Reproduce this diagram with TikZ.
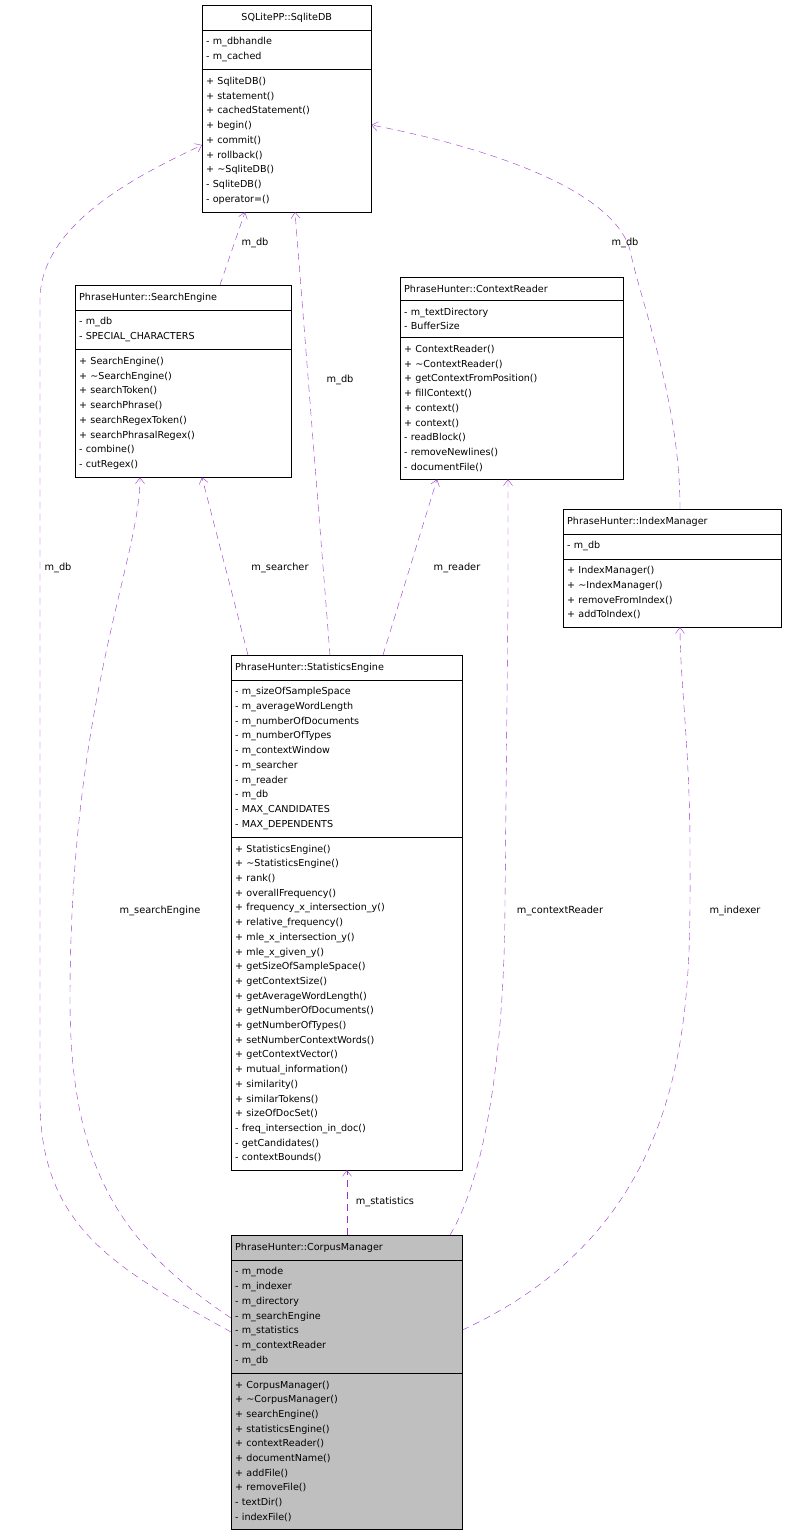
\documentclass[tikz,border=0pt]{standalone}
\usepackage{fontspec}
\setmainfont{DejaVu Sans}
\usetikzlibrary{shapes.multipart,arrows.meta}
\definecolor{edgepurple}{RGB}{154,50,205}
\definecolor{boxgray}{RGB}{191,191,191}
\begin{document}
\begin{tikzpicture}[x=1pt,y=-1pt]
        % Styles
        \tikzstyle{cls}=[draw,rectangle split,rectangle split parts=3,anchor=north west,
            font=\fontsize{9.6}{14.7}\selectfont,align=left,inner xsep=4pt,inner ysep=7.5pt,
            rectangle split part align={center,left,left}]
        \tikzstyle{rel}=[draw=edgepurple,dash pattern=on 7pt off 5pt,-{Straight Barb[length=6pt,width=9pt]}]
        \tikzstyle{lbl}=[font=\fontsize{9.8}{11}\selectfont,inner sep=1pt,text=black]
        \useasboundingbox (0,0) rectangle (787,1536);
        %classes
        \node[cls,text width=161pt] (db) at (202,5) {\makebox[161pt][c]{SQLitePP::SqliteDB}
            \nodepart{two}- m\_dbhandle\\- m\_cached
            \nodepart{three}+ SqliteDB()\\+ statement()\\+ cachedStatement()\\+ begin()\\+ commit()\\+ rollback()\\+ \textasciitilde SqliteDB()\\- SqliteDB()\\- operator=()};
        \node[cls,text width=208pt] (search) at (75,285) {PhraseHunter::SearchEngine
            \nodepart{two}- m\_db\\- SPECIAL\_CHARACTERS
            \nodepart{three}+ SearchEngine()\\+ \textasciitilde SearchEngine()\\+ searchToken()\\+ searchPhrase()\\+ searchRegexToken()\\+ searchPhrasalRegex()\\- combine()\\- cutRegex()};
        \node[cls,text width=215pt] (reader) at (400,277) {PhraseHunter::ContextReader
            \nodepart{two}- m\_textDirectory\\- BufferSize
            \nodepart{three}+ ContextReader()\\+ \textasciitilde ContextReader()\\+ getContextFromPosition()\\+ fillContext()\\+ context()\\+ context()\\- readBlock()\\- removeNewlines()\\- documentFile()};
        \node[cls,text width=210pt] (index) at (563,509) {PhraseHunter::IndexManager
            \nodepart{two}- m\_db
            \nodepart{three}+ IndexManager()\\+ \textasciitilde IndexManager()\\+ removeFromIndex()\\+ addToIndex()};
        \node[cls,text width=223pt] (stats) at (231,655) {PhraseHunter::StatisticsEngine
            \nodepart{two}- m\_sizeOfSampleSpace\\- m\_averageWordLength\\- m\_numberOfDocuments\\- m\_numberOfTypes\\- m\_contextWindow\\- m\_searcher\\- m\_reader\\- m\_db\\- MAX\_CANDIDATES\\- MAX\_DEPENDENTS
            \nodepart{three}+ StatisticsEngine()\\+ \textasciitilde StatisticsEngine()\\+ rank()\\+ overallFrequency()\\+ frequency\_x\_intersection\_y()\\+ relative\_frequency()\\+ mle\_x\_intersection\_y()\\+ mle\_x\_given\_y()\\+ getSizeOfSampleSpace()\\+ getContextSize()\\+ getAverageWordLength()\\+ getNumberOfDocuments()\\+ getNumberOfTypes()\\+ setNumberContextWords()\\+ getContextVector()\\+ mutual\_information()\\+ similarity()\\+ similarTokens()\\+ sizeOfDocSet()\\- freq\_intersection\_in\_doc()\\- getCandidates()\\- contextBounds()};
        \node[cls,text width=223pt,fill=boxgray] (corpus) at (231,1235) {PhraseHunter::CorpusManager
            \nodepart{two}- m\_mode\\- m\_indexer\\- m\_directory\\- m\_searchEngine\\- m\_statistics\\- m\_contextReader\\- m\_db
            \nodepart{three}+ CorpusManager()\\+ \textasciitilde CorpusManager()\\+ searchEngine()\\+ statisticsEngine()\\+ contextReader()\\+ documentName()\\+ addFile()\\+ removeFile()\\- textDir()\\- indexFile()};
        %relations
        \draw[rel] (corpus.west |- 0,1332) .. controls (120,1270) and (40,1230) .. (40,1100)
            -- (40,300) node[lbl] at (58,568) {m\_db} .. controls (40,220) and (150,170) .. (db.west |- 0,145);
        \draw[rel] (corpus.west |- 0,1318) .. controls (130,1250) and (70,1180) .. (70,1000)
            .. controls (70,700) and (140,560) .. (search.south -| 140,0) node[lbl] at (160,911) {m\_searchEngine};
        \draw[rel] (search.north -| 220,0) -- (db.south -| 245,0) node[lbl] at (255,243) {m\_db};
        \draw[rel] (stats.north -| 330,0) -- (db.south -| 295,0) node[lbl] at (340,380) {m\_db};
        \draw[rel] (stats.north -| 248,0) -- (search.south -| 202,0) node[lbl] at (280,568) {m\_searcher};
        \draw[rel] (stats.north -| 383,0) -- (reader.south -| 437,0) node[lbl] at (457,568) {m\_reader};
        \draw[rel] (index.north -| 680,0) .. controls (680,400) and (640,300) .. (630,250)
            node[lbl] at (625,243) {m\_db} .. controls (610,180) and (450,140) .. (db.east |- 0,125);
        \draw[rel] (corpus.north -| 347,0) -- (stats.south -| 347,0) node[lbl] at (385,1202) {m\_statistics};
        \draw[rel] (corpus.north -| 450,0) .. controls (495,1160) and (505,1000) .. (505,900)
            -- (508,600) .. controls (508,540) .. (reader.south -| 508,0) node[lbl] at (560,911) {m\_contextReader};
        \draw[rel] (corpus.east |- 0,1330) .. controls (700,1220) and (690,1000) .. (690,850)
            .. controls (690,750) and (680,680) .. (index.south -| 680,0) node[lbl] at (735,911) {m\_indexer};
    \end{tikzpicture}
\end{document}
